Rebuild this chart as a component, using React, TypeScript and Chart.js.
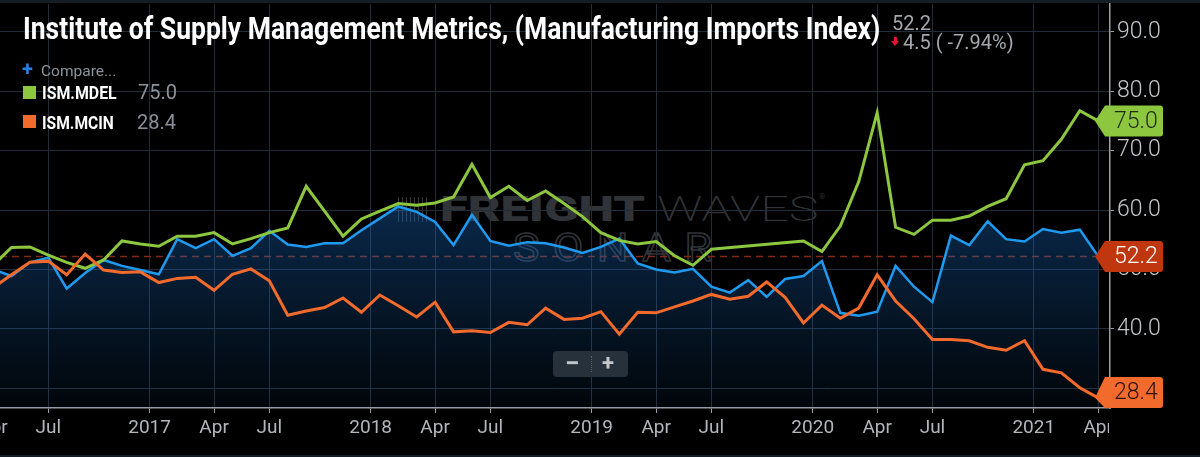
import React, { useEffect, useLayoutEffect, useRef } from 'react';
import { Chart, registerables } from 'chart.js';

Chart.register(...registerables);

// ---------- data ----------
const months = [
  'Apr 2016', 'May 2016', 'Jun 2016', 'Jul 2016', 'Aug 2016', 'Sep 2016', 'Oct 2016', 'Nov 2016', 'Dec 2016',
  'Jan 2017', 'Feb 2017', 'Mar 2017', 'Apr 2017', 'May 2017', 'Jun 2017', 'Jul 2017', 'Aug 2017', 'Sep 2017', 'Oct 2017', 'Nov 2017', 'Dec 2017',
  'Jan 2018', 'Feb 2018', 'Mar 2018', 'Apr 2018', 'May 2018', 'Jun 2018', 'Jul 2018', 'Aug 2018', 'Sep 2018', 'Oct 2018', 'Nov 2018', 'Dec 2018',
  'Jan 2019', 'Feb 2019', 'Mar 2019', 'Apr 2019', 'May 2019', 'Jun 2019', 'Jul 2019', 'Aug 2019', 'Sep 2019', 'Oct 2019', 'Nov 2019', 'Dec 2019',
  'Jan 2020', 'Feb 2020', 'Mar 2020', 'Apr 2020', 'May 2020', 'Jun 2020', 'Jul 2020', 'Aug 2020', 'Sep 2020', 'Oct 2020', 'Nov 2020', 'Dec 2020',
  'Jan 2021', 'Feb 2021', 'Mar 2021', 'Apr 2021',
];

// ISM Manufacturing Imports Index (blue, filled)
const importsIndex = [
  50.0, 48.9, 51.2, 52.0, 46.8, 49.4, 51.6, 50.6, 49.9,
  49.2, 55.1, 53.6, 55.1, 52.3, 53.6, 56.5, 54.2, 53.8, 54.4, 54.4, 56.6,
  58.6, 60.6, 59.7, 58.0, 54.1, 59.2, 54.8, 54.0, 54.6, 54.4, 53.7, 52.8,
  53.8, 55.2, 51.0, 50.0, 49.5, 50.1, 47.1, 46.1, 48.2, 45.4, 48.4, 48.9,
  51.4, 42.7, 42.2, 42.9, 50.6, 47.1, 44.5, 55.7, 54.1, 58.1, 55.1, 54.7,
  56.8, 56.2, 56.7, 52.2,
];

// ISM.MDEL (green)
const mdel = [
  50.7, 53.7, 53.8, 52.4, 51.2, 50.2, 51.6, 54.8, 54.3,
  53.9, 55.6, 55.6, 56.2, 54.3, 55.2, 56.2, 57.0, 64.0, 59.8, 55.6, 58.5,
  59.8, 61.1, 60.8, 61.2, 62.2, 67.7, 62.1, 64.0, 61.6, 63.2, 61.1, 58.9,
  56.2, 54.9, 54.3, 54.7, 52.3, 50.7, 53.4, null, null, null, null, 54.8,
  53.0, 57.3, 64.8, 76.4, 57.1, 55.9, 58.3, 58.3, 59.0, 60.6, 61.9, 67.6,
  68.3, 71.9, 76.7, 75.0,
];

// ISM.MCIN (orange)
const mcin = [
  46.9, 49.1, 51.2, 51.4, 49.1, 52.6, 49.9, 49.5, 49.6,
  47.8, 48.5, 48.7, 46.5, 49.2, 50.1, 48.1, 42.3, 43.0, 43.6, 45.2, 42.8,
  45.7, 43.9, 42.0, 44.5, 39.5, 39.7, 39.4, 41.1, 40.7, 43.5, 41.6, 41.8,
  42.9, 39.1, 42.8, 42.7, 43.7, 44.7, 45.8, 45.0, 45.5, 47.9, 45.3, 41.0,
  44.0, 41.8, 43.5, 49.1, 44.7, 41.7, 38.2, 38.2, 38.0, 36.9, 36.4, 38.0,
  33.2, 32.6, 30.1, 28.4,
];

// x ticks in month-index units (0 = Apr 2016); year ticks fall between Dec and Jan points
const xTickPositions = [0, 3, 8.5, 12, 15, 20.5, 24, 27, 32.5, 36, 39, 44.5, 48, 51, 56.5, 60];
const xTickLabels = ['Apr', 'Jul', '2017', 'Apr', 'Jul', '2018', 'Apr', 'Jul', '2019', 'Apr', 'Jul', '2020', 'Apr', 'Jul', '2021', 'Apr'];
const yTickValues = [30, 40, 50, 60, 70, 80, 90];
const xRange = [0.378, 60.64];
const yRange = [26.69, 94.67];

const importsLast = 52.2;
const mdelLast = 75.0;
const mcinLast = 28.4;

const GREEN = '#8dc63f';
const ORANGE = '#f26a2c';
const BLUE = '#1e9bf0';
const RED_TAG = '#c0360f';

function FitText({ text, width, style }: { text: string; width: number; style: React.CSSProperties }) {
  const ref = useRef<HTMLSpanElement>(null);
  useLayoutEffect(() => {
    const el = ref.current;
    if (!el) return;
    const fit = () => {
      el.style.transform = 'none';
      const w = el.offsetWidth;
      if (w > 0) el.style.transform = `scaleX(${width / w})`;
    };
    fit();
    if ((document as any).fonts && (document as any).fonts.ready) (document as any).fonts.ready.then(fit);
  }, [text, width]);
  return (
    <span
      ref={ref}
      style={{
        position: 'absolute',
        whiteSpace: 'nowrap',
        display: 'inline-block',
        transformOrigin: '0 0',
        lineHeight: 1,
        ...style,
      }}
    >
      {text}
    </span>
  );
}

export default function App() {
  const canvasRef = useRef<HTMLCanvasElement>(null);

  useEffect(() => {
    document.body.style.margin = '0';
    document.body.style.background = '#000';
    document.documentElement.style.background = '#000';
    const canvas = canvasRef.current;
    if (!canvas) return;

    const refLinePlugin = {
      id: 'refLine',
      beforeDatasetsDraw(chart: any) {
        const { ctx, chartArea, scales } = chart;
        const y = scales.y.getPixelForValue(importsLast);
        ctx.save();
        ctx.strokeStyle = '#84291a';
        ctx.lineWidth = 1.5;
        ctx.setLineDash([7, 5]);
        ctx.beginPath();
        ctx.moveTo(chartArea.left, y);
        ctx.lineTo(chartArea.right - 15, y);
        ctx.stroke();
        ctx.restore();
      },
    };

    const tagsPlugin = {
      id: 'tags',
      afterDraw(chart: any) {
        const { ctx, chartArea, scales } = chart;
        const tags = [
          { value: mdelLast, bg: GREEN, fg: '#1c2a10' },
          { value: importsLast, bg: RED_TAG, fg: '#ffffff' },
          { value: mcinLast, bg: ORANGE, fg: '#2a1208' },
        ];
        const h = 31;
        const tipX = chartArea.right - 15;
        const boxL = chartArea.right - 5;
        const boxR = boxL + 58;
        const r = 3;
        tags.forEach((t) => {
          const y = scales.y.getPixelForValue(t.value);
          let top = y - h / 2;
          top = Math.max(chartArea.top, Math.min(chartArea.bottom - h, top));
          const bot = top + h;
          ctx.save();
          ctx.fillStyle = t.bg;
          ctx.beginPath();
          ctx.moveTo(tipX, y);
          ctx.lineTo(boxL, top);
          ctx.lineTo(boxR - r, top);
          ctx.arcTo(boxR, top, boxR, top + r, r);
          ctx.lineTo(boxR, bot - r);
          ctx.arcTo(boxR, bot, boxR - r, bot, r);
          ctx.lineTo(boxL, bot);
          ctx.closePath();
          ctx.fill();
          ctx.fillStyle = t.fg;
          ctx.font = '300 23px Roboto';
          ctx.textAlign = 'left';
          ctx.textBaseline = 'middle';
          ctx.fillText(t.value.toFixed(1), boxL + 9, top + h / 2 + 1);
          ctx.restore();
        });
      },
    };

    const gridColor = '#222d3a';
    const axisColor = '#9a9fa6';

    const chart = new Chart(canvas, {
      type: 'line',
      data: {
        datasets: [
          {
            label: 'ISM.MCIN',
            data: mcin.map((v, i) => ({ x: i, y: v })),
            borderColor: ORANGE,
            borderWidth: 3,
            pointRadius: 0,
            fill: false,
            tension: 0,
          },
          {
            label: 'ISM.MDEL',
            data: mdel.map((v, i) => ({ x: i, y: v })),
            borderColor: GREEN,
            borderWidth: 3,
            pointRadius: 0,
            fill: false,
            spanGaps: true,
            tension: 0,
          },
          {
            label: 'Manufacturing Imports Index',
            data: importsIndex.map((v, i) => ({ x: i, y: v })),
            borderColor: BLUE,
            borderWidth: 2.5,
            pointRadius: 0,
            fill: 'start',
            tension: 0,
            backgroundColor: (c: any) => {
              const ch = c.chart;
              const area = ch.chartArea;
              if (!area) return 'rgba(25,100,180,0.3)';
              const top = ch.scales.y.getPixelForValue(62);
              const g = ch.ctx.createLinearGradient(0, top, 0, area.bottom);
              g.addColorStop(0, 'rgba(25,105,190,0.40)');
              g.addColorStop(1, 'rgba(25,105,190,0.05)');
              return g;
            },
          },
        ],
      },
      options: {
        responsive: false,
        animation: false,
        events: [],
        layout: { padding: { top: 4, left: 0, right: 0, bottom: 0 } },
        plugins: {
          legend: { display: false },
          tooltip: { enabled: false },
          title: { display: false },
        },
        scales: {
          x: {
            type: 'linear',
            min: xRange[0],
            max: xRange[1],
            afterBuildTicks: (s: any) => {
              s.ticks = xTickPositions.map((v) => ({ value: v }));
            },
            afterFit: (s: any) => {
              s.height = 49;
              s.paddingLeft = 0;
              s.paddingRight = 0;
            },
            afterUpdate: (s: any) => {
              if (s.__clipped) return;
              const orig = s.drawLabels.bind(s);
              s.drawLabels = (ca: any) => {
                const c = s.ctx;
                c.save();
                c.beginPath();
                c.rect(0, 0, s.right - 1, s.chart.height);
                c.clip();
                orig(ca);
                c.restore();
              };
              s.__clipped = true;
            },
            grid: { color: gridColor, tickColor: axisColor, tickLength: 5, drawTicks: true, lineWidth: 1 },
            border: { color: axisColor, width: 1.5 },
            ticks: {
              autoSkip: false,
              maxRotation: 0,
              minRotation: 0,
              color: '#b3b7bd',
              font: { family: 'Roboto', size: 19 },
              padding: 4,
              callback: (_v: any, i: number) => xTickLabels[i],
            },
          },
          y: {
            type: 'linear',
            position: 'right',
            min: yRange[0],
            max: yRange[1],
            afterBuildTicks: (s: any) => {
              s.ticks = yTickValues.map((v) => ({ value: v }));
            },
            afterFit: (s: any) => {
              s.width = 90;
              s.paddingTop = 0;
              s.paddingBottom = 0;
            },
            grid: { color: gridColor, tickColor: axisColor, tickLength: 4, drawTicks: true, lineWidth: 1 },
            border: { color: axisColor, width: 1.5 },
            ticks: {
              color: '#c3c7cc',
              font: { family: 'Roboto', size: 23, weight: '300' },
              padding: 3,
              callback: (v: any) => Number(v).toFixed(1),
            },
          },
        },
      } as any,
      plugins: [refLinePlugin, tagsPlugin],
    });

    return () => chart.destroy();
  }, []);

  const wm = 'rgba(120,126,136,0.42)';

  return (
    <div style={{ position: 'relative', width: 1200, height: 457, background: '#000', overflow: 'hidden', fontFamily: 'Roboto, sans-serif' }}>
      {/* frame */}
      <div style={{ position: 'absolute', left: 0, top: 0, width: 1200, height: 3, background: '#161c24' }} />
      <div style={{ position: 'absolute', left: 0, top: 455, width: 1200, height: 2, background: '#161c24' }} />

      {/* watermark */}
      <div style={{ position: 'absolute', left: 398, top: 197, width: 29, height: 25, background: `repeating-linear-gradient(90deg, ${wm} 0 1.5px, transparent 1.5px 4px)` }} />
      <FitText text="FREIGHT" width={205} style={{ left: 440, top: 192, fontSize: 35, fontWeight: 900, color: wm }} />
      <FitText text="WAVES" width={161} style={{ left: 657, top: 192, fontSize: 35, fontWeight: 200, color: wm }} />
      <span style={{ position: 'absolute', left: 819, top: 193, fontSize: 8, color: wm, lineHeight: 1 }}>®</span>
      <FitText
        text="SONAR"
        width={212}
        style={{ left: 513, top: 229, fontSize: 39, fontWeight: 400, letterSpacing: '0.3em', color: 'transparent', WebkitTextStroke: `1.5px ${wm}` } as any}
      />

      <canvas ref={canvasRef} width={1200} height={457} style={{ position: 'absolute', left: 0, top: 0, width: 1200, height: 457 }} />

      {/* title */}
      <FitText
        text="Institute of Supply Management Metrics, (Manufacturing Imports Index)"
        width={857}
        style={{ left: 23, top: 13, fontSize: 31, fontWeight: 700, color: '#ffffff' }}
      />

      {/* last value / change */}
      <span style={{ position: 'absolute', left: 892, top: 12.5, fontSize: 20, lineHeight: 1, color: '#a3a8ae' }}>52.2</span>
      <div style={{ position: 'absolute', left: 893.5, top: 37, width: 3.5, height: 4, background: '#e8122c' }} />
      <div style={{ position: 'absolute', left: 891, top: 41, width: 0, height: 0, borderLeft: '4.3px solid transparent', borderRight: '4.3px solid transparent', borderTop: '5px solid #e8122c' }} />
      <span style={{ position: 'absolute', left: 903, top: 31.5, fontSize: 20, lineHeight: 1, color: '#a3a8ae', whiteSpace: 'pre' }}>4.5 ( -7.94%)</span>

      {/* legend */}
      <span style={{ position: 'absolute', left: 22, top: 59, fontSize: 20, fontWeight: 700, lineHeight: 1, color: '#2b7fe0' }}>+</span>
      <span style={{ position: 'absolute', left: 41, top: 64, fontSize: 15.5, lineHeight: 1, color: '#8d939a' }}>Compare...</span>

      <div style={{ position: 'absolute', left: 23, top: 86, width: 13, height: 13, background: GREEN }} />
      <FitText text="ISM.MDEL" width={75} style={{ left: 42, top: 83.7, fontSize: 18, fontWeight: 700, color: '#ffffff' }} />
      <span style={{ position: 'absolute', left: 138, top: 82.4, fontSize: 20, lineHeight: 1, color: '#8b9198' }}>75.0</span>

      <div style={{ position: 'absolute', left: 23, top: 115, width: 13, height: 13, background: ORANGE }} />
      <FitText text="ISM.MCIN" width={72} style={{ left: 42, top: 113.7, fontSize: 18, fontWeight: 700, color: '#ffffff' }} />
      <span style={{ position: 'absolute', left: 137, top: 112.4, fontSize: 20, lineHeight: 1, color: '#8b9198' }}>28.4</span>

      {/* zoom control */}
      <div style={{ position: 'absolute', left: 553, top: 351, width: 75, height: 26, background: '#27313c', borderRadius: 4 }} />
      <div style={{ position: 'absolute', left: 591, top: 356, width: 0, height: 16, borderLeft: '1px dotted #56606b' }} />
      <FitText text="−" width={14} style={{ left: 565, top: 349.5, fontSize: 26, fontWeight: 700, color: '#c3c7cc' }} />
      <span style={{ position: 'absolute', left: 602, top: 352, fontSize: 22, fontWeight: 700, lineHeight: 1, color: '#c3c7cc' }}>+</span>
    </div>
  );
}
